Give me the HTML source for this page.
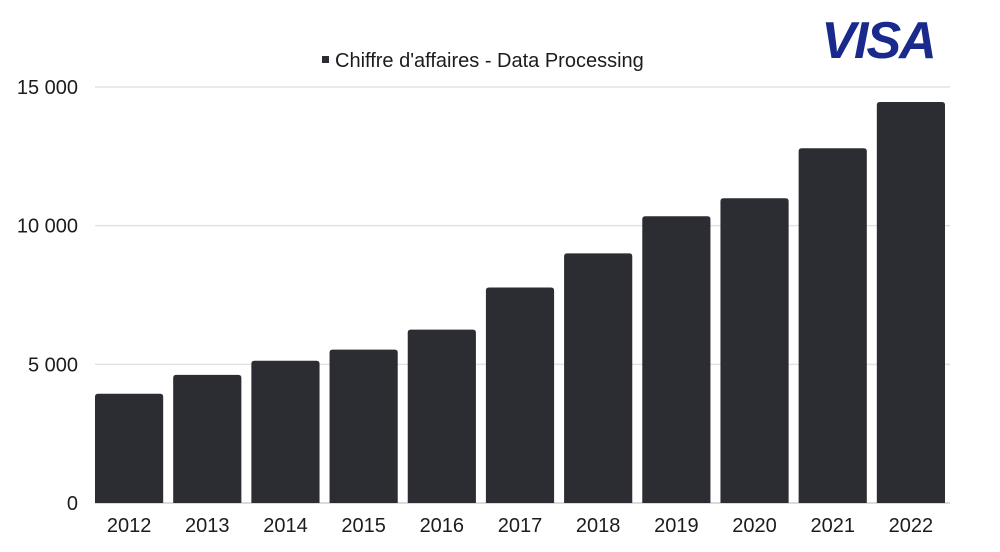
<!DOCTYPE html>
<html><head><meta charset="utf-8"><style>
html,body{margin:0;padding:0;background:#fff;width:1000px;height:552px;overflow:hidden}
svg text{font-family:"Liberation Sans",sans-serif;fill:#1c1c1c}
</style></head><body>
<svg id="chart" width="1000" height="552" xmlns="http://www.w3.org/2000/svg">
<g id="grid"></g>
<g id="yaxis"></g>
<g id="bars"></g>
<g id="xaxis"></g>
<g>
<rect x="322" y="56" width="7" height="7" fill="#2b2d33"/>
<text x="335" y="67" font-size="20">Chiffre d'affaires - Data Processing</text>
</g>
<text x="878" y="58" font-size="52" font-weight="bold" font-style="italic" text-anchor="middle" style="fill:#1a2a8c;letter-spacing:-2px">VISA</text>
</svg>
<script>
const categories=["2012","2013","2014","2015","2016","2017","2018","2019","2020","2021","2022"];
const revenue=[3940,4620,5130,5530,6250,7770,9000,10340,10990,12790,14460];
const yTicks=[0,5000,10000,15000];
const yTickLabels=["0","5 000","10 000","15 000"];
const NS="http://www.w3.org/2000/svg";
const x0=90,x1=950,yBase=503,yTop=87,yMax=15000;
const band=(x1-x0)/categories.length;
function y(v){return yBase-(v/yMax)*(yBase-yTop);}
function xb(i){return x0+i*band;}
function mk(t,a,p){const e=document.createElementNS(NS,t);for(const k in a)e.setAttribute(k,a[k]);p.appendChild(e);return e;}
const grid=document.getElementById('grid'),ya=document.getElementById('yaxis'),bars=document.getElementById('bars'),xa=document.getElementById('xaxis');
yTicks.forEach((v,i)=>{
 const l=mk('line',{x1:95,x2:x1,y1:y(v),y2:y(v),stroke:i===0?'#cfcfcf':'#e2e2e2','stroke-width':1.5},grid);
 
 
 const t=mk('text',{x:78,y:y(v)+7,'font-size':20,'text-anchor':'end'},ya);
 t.textContent=yTickLabels[i];
 
 
});
revenue.forEach((v,i)=>{
 const bx=xb(i)+5,bw=band-10;
 const r=mk('path',{d:`M${bx},${yBase}V${y(v)+3}q0,-3 3,-3h${bw-6}q3,0 3,3V${yBase}Z`,fill:'#2b2d33'},bars);
 
 
 const t=mk('text',{x:xb(i)+band/2,y:532,'font-size':20,'text-anchor':'middle'},xa);
 t.textContent=categories[i];
 
 
});
</script>
</body></html>
